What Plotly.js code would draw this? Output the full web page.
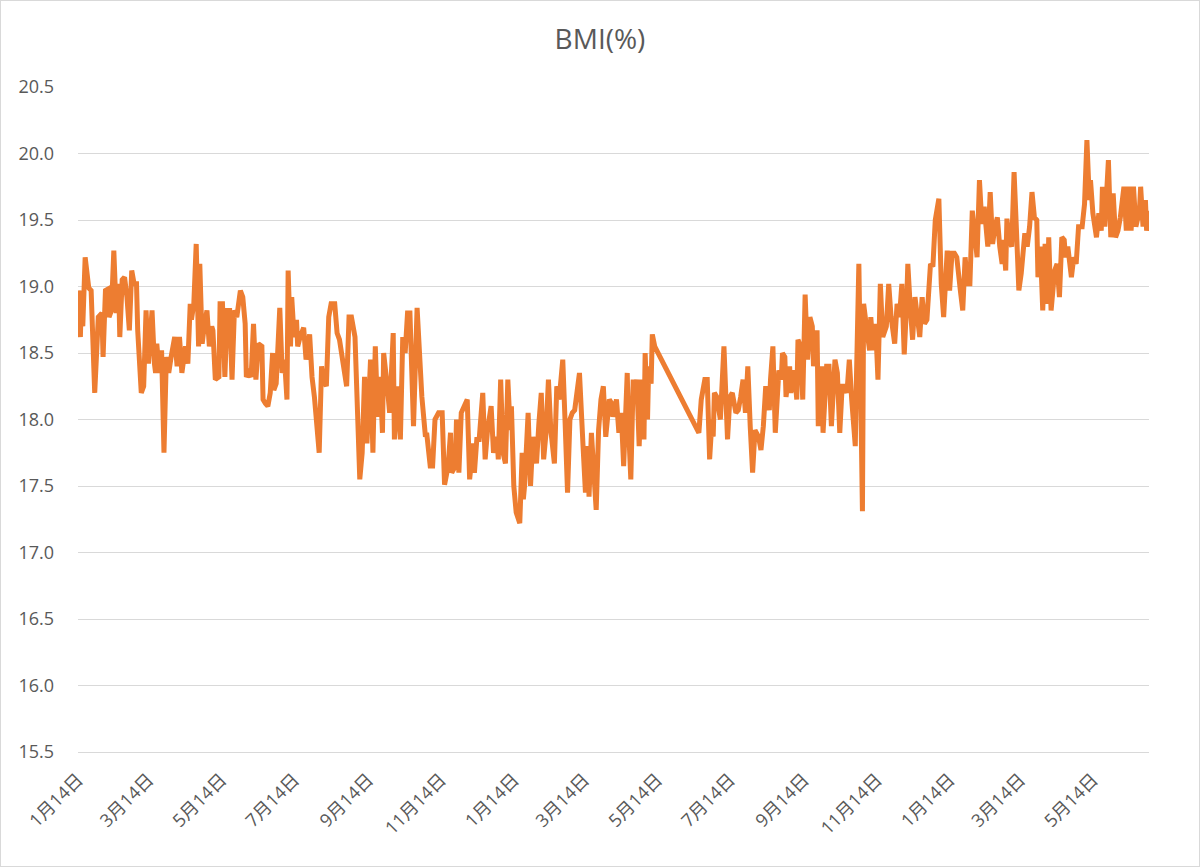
<!DOCTYPE html>
<html>
<head>
<meta charset="utf-8">
<script src="https://cdn.plot.ly/plotly-3.0.1.min.js"></script>
<style>
  html, body { margin: 0; padding: 0; background: #fff; }
  #wrap { position: relative; width: 1200px; height: 867px; }
  #chart { width: 1200px; height: 867px; }
  #frame { position: absolute; inset: 0; border: 1px solid #d9d9d9; pointer-events: none; }
</style>
</head>
<body>
<div id="wrap"><div id="chart"></div><div id="frame"></div></div>
<script>
// measurement dates, as days since 2021-01-14 (first point)
const startDate = "2021-01-14";
const endDay = 897;
const days = [
  0, 1, 2, 3, 4, 6, 9, 11, 14, 17, 20, 21, 23, 25, 26, 28, 30, 32, 34, 35,
  37, 39, 41, 43, 45, 47, 49, 50, 53, 55, 57, 59, 62, 64, 65, 66, 68, 70, 72, 74,
  76, 78, 81, 83, 85, 87, 90, 92, 94, 95, 97, 99, 101, 102, 104, 106, 108, 110, 112, 113,
  115, 118, 119, 121, 123, 125, 127, 129, 131, 133, 136, 138, 140, 141, 143, 145, 147, 149, 151, 154,
  155, 157, 159, 161, 163, 164, 166, 169, 171, 173, 175, 176, 178, 179, 181, 183, 184, 186, 189, 191,
  194, 196, 198, 202, 204, 205, 208, 210, 212, 215, 217, 219, 225, 227, 229, 232, 236, 238, 240, 242,
  245, 247, 249, 251, 253, 255, 256, 259, 261, 264, 265, 267, 270, 272, 274, 276, 278, 279, 281, 284,
  286, 288, 291, 292, 295, 297, 299, 302, 305, 307, 310, 312, 313, 316, 317, 319, 321, 324, 326, 328,
  331, 332, 334, 336, 339, 341, 343, 346, 348, 351, 352, 354, 356, 358, 360, 362, 363, 365, 367, 370,
  372, 373, 374, 377, 379, 381, 384, 386, 388, 390, 392, 394, 396, 399, 401, 403, 406, 408, 410, 412,
  414, 416, 420, 423, 425, 427, 428, 430, 432, 434, 436, 438, 440, 442, 445, 447, 448, 451, 453, 455,
  457, 460, 461, 463, 465, 466, 468, 470, 472, 474, 475, 477, 478, 480, 481, 483, 520, 522, 525, 527,
  529, 531, 532, 533, 535, 538, 541, 544, 546, 548, 551, 553, 555, 557, 559, 561, 563, 565, 567, 570,
  572, 574, 576, 579, 580, 582, 584, 587, 589, 590, 592, 593, 596, 597, 600, 602, 603, 605, 607, 609,
  611, 613, 615, 616, 619, 620, 623, 624, 627, 629, 631, 634, 636, 638, 640, 642, 644, 646, 648, 651,
  652, 654, 657, 658, 661, 663, 664, 666, 668, 670, 672, 674, 677, 679, 681, 684, 686, 688, 690, 692,
  694, 695, 697, 699, 701, 703, 705, 707, 709, 711, 714, 716, 718, 721, 723, 725, 728, 730, 732, 734,
  736, 739, 741, 743, 745, 747, 749, 751, 753, 755, 757, 759, 761, 762, 764, 766, 768, 770, 772, 774,
  775, 777, 778, 780, 782, 784, 786, 788, 790, 793, 795, 797, 799, 801, 803, 804, 806, 808, 810, 812,
  813, 815, 818, 820, 822, 824, 826, 827, 829, 832, 834, 836, 838, 841, 843, 845, 847, 848, 850, 853,
  855, 857, 858, 860, 863, 865, 867, 869, 871, 873, 876, 878, 880, 882, 884, 886, 889, 890, 892, 894,
  895, 897
];
const bmi = [
  18.97, 18.67, 18.62, 18.97, 18.70, 19.22, 18.99, 18.97, 18.20, 18.77, 18.80, 18.47, 18.97, 18.98, 18.77, 18.82, 19.27, 18.80, 19.02, 18.62,
  19.05, 19.07, 18.92, 18.67, 19.12, 19.02, 19.02, 18.67, 18.20, 18.25, 18.82, 18.42, 18.82, 18.42, 18.35, 18.57, 18.35, 18.52, 17.75, 18.47,
  18.35, 18.47, 18.62, 18.40, 18.62, 18.35, 18.55, 18.42, 18.87, 18.75, 18.87, 19.32, 18.55, 19.17, 18.57, 18.72, 18.82, 18.55, 18.70, 18.67,
  18.30, 18.32, 18.87, 18.87, 18.32, 18.82, 18.82, 18.30, 18.82, 18.77, 18.97, 18.92, 18.72, 18.32, 18.35, 18.32, 18.72, 18.30, 18.57, 18.55,
  18.15, 18.12, 18.10, 18.20, 18.50, 18.22, 18.27, 18.84, 18.35, 18.45, 18.15, 19.12, 18.55, 18.92, 18.62, 18.75, 18.55, 18.62, 18.69, 18.45,
  18.64, 18.32, 18.17, 17.75, 18.40, 18.32, 18.25, 18.77, 18.87, 18.87, 18.65, 18.60, 18.25, 18.77, 18.77, 18.62, 17.55, 17.75, 18.32, 17.82,
  18.45, 17.75, 18.55, 18.02, 18.32, 17.90, 18.50, 18.25, 18.05, 18.65, 17.85, 18.25, 17.85, 18.62, 18.50, 18.80, 18.80, 18.52, 17.95, 18.84,
  18.52, 18.17, 17.87, 17.90, 17.65, 17.65, 18.00, 18.05, 18.05, 17.51, 17.65, 17.90, 17.60, 17.65, 18.00, 17.60, 18.05, 18.12, 18.15, 17.55,
  17.82, 17.60, 17.85, 17.85, 18.20, 17.70, 17.92, 18.10, 17.75, 17.87, 17.70, 18.30, 17.75, 17.67, 18.30, 17.92, 18.10, 17.50, 17.30, 17.22,
  17.75, 17.40, 17.50, 18.05, 17.50, 17.87, 17.67, 17.97, 18.20, 17.70, 17.90, 18.30, 17.92, 17.67, 18.25, 18.15, 18.45, 17.97, 17.45, 18.00,
  18.05, 18.07, 18.35, 17.80, 17.45, 17.80, 17.42, 17.90, 17.60, 17.32, 17.92, 18.15, 18.25, 17.87, 18.15, 18.12, 18.02, 18.15, 17.90, 18.05,
  17.65, 18.35, 17.97, 17.55, 18.30, 18.17, 18.30, 17.80, 18.30, 17.85, 18.50, 18.00, 18.40, 18.27, 18.64, 18.55, 17.90, 18.15, 18.30, 18.30,
  17.70, 18.00, 17.87, 18.20, 18.17, 18.00, 18.55, 17.85, 18.17, 18.20, 18.05, 18.07, 18.17, 18.30, 18.05, 18.40, 17.95, 17.60, 17.92, 17.87,
  17.77, 17.95, 18.25, 18.07, 18.30, 18.55, 17.90, 18.37, 18.30, 18.50, 18.47, 18.17, 18.40, 18.20, 18.37, 18.15, 18.60, 18.55, 18.15, 18.94,
  18.45, 18.77, 18.70, 18.40, 18.67, 17.95, 18.40, 17.90, 18.40, 18.40, 17.95, 18.45, 18.35, 17.90, 18.25, 18.25, 18.20, 18.45, 18.15, 17.80,
  18.32, 19.17, 17.31, 18.87, 18.65, 18.52, 18.77, 18.52, 18.72, 18.30, 19.02, 18.62, 18.70, 19.02, 18.77, 18.57, 18.87, 18.77, 19.02, 18.49,
  18.87, 19.17, 18.85, 18.60, 18.92, 18.75, 18.62, 18.92, 18.72, 18.75, 19.17, 19.15, 19.50, 19.66, 19.02, 18.77, 19.27, 18.97, 19.25, 19.25,
  19.22, 18.97, 18.82, 19.22, 19.02, 19.02, 19.57, 19.40, 19.22, 19.80, 19.47, 19.60, 19.35, 19.30, 19.71, 19.32, 19.45, 19.52, 19.30, 19.17,
  19.35, 19.12, 19.51, 19.35, 19.30, 19.86, 19.42, 18.97, 19.10, 19.40, 19.30, 19.45, 19.71, 19.52, 19.50, 19.07, 19.30, 18.82, 19.32, 18.87,
  19.37, 18.82, 19.12, 19.17, 18.92, 19.37, 19.35, 19.22, 19.30, 19.07, 19.22, 19.17, 19.45, 19.45, 19.62, 20.10, 19.65, 19.80, 19.55, 19.37,
  19.55, 19.42, 19.75, 19.45, 19.95, 19.37, 19.70, 19.37, 19.42, 19.52, 19.75, 19.42, 19.75, 19.42, 19.75, 19.45, 19.57, 19.75, 19.45, 19.65,
  19.42, 19.57
];

const t0 = Date.parse(startDate + "T00:00:00Z");
const toDate = d => new Date(t0 + d * 86400000).toISOString().slice(0, 10);
const dates = days.map(toDate);

const font = { family: "Open Sans, 'Noto Sans CJK JP', sans-serif", color: "#595959" };

Plotly.newPlot("chart", [{
  x: dates, y: bmi, mode: "lines", name: "BMI",
  line: { color: "#ED7D31", width: 5 },
  hoverinfo: "x+y",
}], {
  width: 1200, height: 867,
  paper_bgcolor: "#fff", plot_bgcolor: "#fff",
  margin: { l: 78, r: 51, t: 87, b: 115 },
  font: font,
  showlegend: false,
  title: { text: "BMI(%)", font: { ...font, size: 28 }, x: 0.5, xanchor: "center", y: 0.955, yanchor: "middle" },
  xaxis: {
    type: "date",
    range: [toDate(0), toDate(endDay)],
    tick0: startDate, dtick: "M2",
    tickformat: "%-m月%-d日",
    tickangle: -45,
    tickfont: { ...font, size: 18 },
    showgrid: false,
    showline: true, linecolor: "#d9d9d9", linewidth: 1,
    ticks: "", ticklabelstandoff: 9,
    zeroline: false,
  },
  yaxis: {
    range: [15.5, 20.5], dtick: 0.5, tickformat: ".1f",
    tickfont: { ...font, size: 18 },
    gridcolor: "#d9d9d9", gridwidth: 1,
    showline: false, zeroline: false,
    ticks: "", ticklabelstandoff: 23,
  },
}, { staticPlot: true });
</script>
</body>
</html>
